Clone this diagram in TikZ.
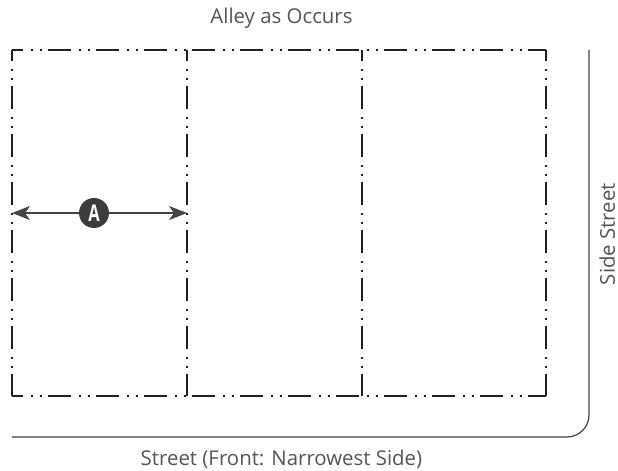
\documentclass[tikz,border=0pt]{standalone}
\usepackage{fontspec}
\setmainfont{Open Sans}
\usetikzlibrary{arrows.meta}

\definecolor{lotline}{HTML}{231F20}
\definecolor{streetline}{HTML}{444444}
\definecolor{labeltext}{HTML}{555555}
\definecolor{markfill}{HTML}{3C3C3C}

\tikzset{
	lotedge/.style={draw=lotline, line width=1pt,
		dash pattern=on 11.5pt off 4pt on 0.8pt off 3.7pt on 0.8pt off 3.2pt, dash phase=5.75pt},
	streetedge/.style={draw=streetline, line width=0.6pt, rounded corners=11pt},
	sidelabel/.style={text=labeltext, font=\fontsize{10.2pt}{12pt}\selectfont, inner sep=0pt, anchor=base},
	lotmark/.style={circle, fill=markfill, minimum size=15pt, inner sep=0pt, text=white,
		font=\bfseries\fontsize{11.5pt}{12pt}\selectfont}
}

\begin{document}
\begin{tikzpicture}[x=0.5pt, y=-0.5pt]
		
		\useasboundingbox (0, 0) rectangle (618, 471);
		
		% Lot corners
		\coordinate (nw) at (12, 50);
		\coordinate (ne) at (546, 50);
		\coordinate (sw) at (12, 396);
		\coordinate (se) at (546, 396);
		\coordinate (n1) at (187, 50);
		\coordinate (s1) at (187, 396);
		\coordinate (n2) at (362, 50);
		\coordinate (s2) at (362, 396);
		
		% Lot lines
		\draw[lotedge] (nw) -- (ne);
		\draw[lotedge] (sw) -- (se);
		\draw[lotedge] (nw) -- (sw);
		\draw[lotedge] (n1) -- (s1);
		\draw[lotedge] (n2) -- (s2);
		\draw[lotedge] (ne) -- (se);
		
		% Streets
		\coordinate (sidetop) at (589, 50);
		\coordinate (corner) at (589, 437);
		\coordinate (streetend) at (12, 437);
		\draw[streetedge] (sidetop) -- (corner) -- (streetend);
		
		% Width A
		\coordinate (aL) at (12, 213);
		\coordinate (aR) at (187, 213);
		\draw[{Stealth[length=9pt, width=7pt, inset=2.5pt]}-{Stealth[length=9pt, width=7pt, inset=2.5pt]}, draw=streetline, line width=0.6pt, fill=streetline] (aL) -- (aR);
		\node[lotmark] (markA) at (94, 213) {\scalebox{0.72}[1]{A}};
		
		% Labels
		\node[sidelabel] (alley) at (281.5, 24) {Alley as Occurs};
		\node[sidelabel] (street) at (281.5, 466) {Street (Front: Narrowest Side)};
		\node[sidelabel, rotate=90] (side) at (615, 234) {Side Street};
		
\end{tikzpicture}
\end{document}
